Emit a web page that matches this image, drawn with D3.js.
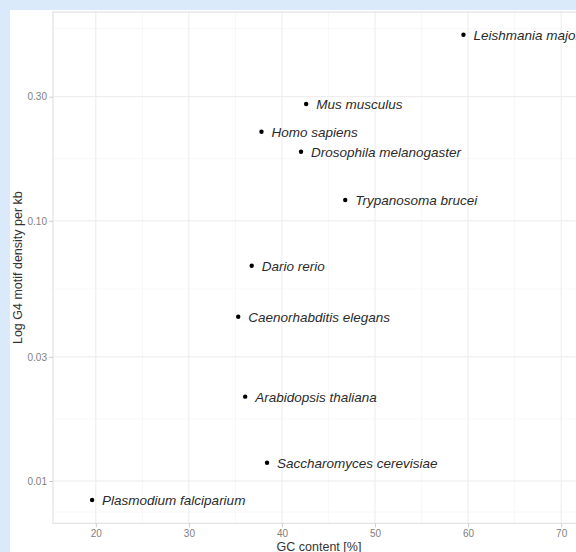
<!DOCTYPE html>
<html><head><meta charset="utf-8">
<script src="https://cdn.jsdelivr.net/npm/d3@7"></script>
<style>html,body{margin:0;padding:0;background:#dbeafb;overflow:hidden}svg{display:block}</style>
</head><body>
<svg id="c" width="576" height="552"></svg>
<script>
const species = ["Leishmania major","Mus musculus","Homo sapiens","Drosophila melanogaster","Trypanosoma brucei","Dario rerio","Caenorhabditis elegans","Arabidopsis thaliana","Saccharomyces cerevisiae","Plasmodium falciparium"];
const gcContent = [59.5, 42.6, 37.8, 42.05, 46.8, 36.75, 35.3, 36.05, 38.4, 19.6];
const g4Density = [0.519, 0.281, 0.220, 0.1844, 0.1203, 0.0672, 0.0428, 0.0211, 0.01176, 0.00845];
const xTicks = [20, 30, 40, 50, 60, 70];
const xMinor = [15, 25, 35, 45, 55, 65, 75];
const yTicks = [0.01, 0.03, 0.10, 0.30];
const yTickLabels = ["0.01", "0.03", "0.10", "0.30"];

const svg = d3.select("#c");
svg.append("rect").attr("x",10).attr("y",10).attr("width",600).attr("height",600).attr("fill","#ffffff");

const L = 53, R = 585, T = 12, B = 523.3;
const x = d3.scaleLinear().domain([15.4, 72.56]).range([L, R]);
const y = d3.scaleLog().domain([0.006879, 0.6347]).range([B, T]);

// minor y breaks: midpoints in log space between major breaks
const yAll = [0.01/Math.sqrt(3), ...yTicks, 1.0];
const yMinor = [];
for (let i = 0; i < yAll.length-1; i++) yMinor.push(Math.sqrt(yAll[i]*yAll[i+1]));

const g = svg.append("g");
g.selectAll(".xmin").data(xMinor.filter(v=>x(v)>L && x(v)<R)).enter().append("line")
  .attr("x1",d=>x(d)).attr("x2",d=>x(d)).attr("y1",T).attr("y2",B)
  .attr("stroke","#f3f3f3").attr("stroke-width",0.6);
g.selectAll(".ymin").data(yMinor.filter(v=>y(v)>T && y(v)<B)).enter().append("line")
  .attr("y1",d=>y(d)).attr("y2",d=>y(d)).attr("x1",L).attr("x2",R)
  .attr("stroke","#f3f3f3").attr("stroke-width",0.6);
g.selectAll(".xmaj").data(xTicks).enter().append("line")
  .attr("x1",d=>x(d)).attr("x2",d=>x(d)).attr("y1",T).attr("y2",B)
  .attr("stroke","#ebebeb").attr("stroke-width",1);
g.selectAll(".ymaj").data(yTicks).enter().append("line")
  .attr("y1",d=>y(d)).attr("y2",d=>y(d)).attr("x1",L).attr("x2",R)
  .attr("stroke","#ebebeb").attr("stroke-width",1);

// panel border
g.append("rect").attr("x",L).attr("y",T).attr("width",R-L).attr("height",B-T)
  .attr("fill","none").attr("stroke","#dcdcdc").attr("stroke-width",1);

// axes
const xAxis = d3.axisBottom(x).tickValues(xTicks).tickSize(4).tickPadding(3).tickFormat(d3.format("d"));
const gx = svg.append("g").attr("transform",`translate(0,${B})`).call(xAxis);
const yAxis = d3.axisLeft(y).tickValues(yTicks).tickSize(4).tickPadding(2).tickFormat((d,i)=>yTickLabels[i]);
const gy = svg.append("g").attr("transform",`translate(${L},0)`).call(yAxis);
[gx, gy].forEach(a => {
  a.select(".domain").remove();
  a.selectAll(".tick line").attr("stroke","#cfcfcf");
  a.selectAll(".tick text").attr("fill","#808080").style("font-family","'Liberation Sans', Arial, sans-serif").style("font-size","10px");
});

// points
const data = species.map((s,i)=>({name:s, gc:gcContent[i], d:g4Density[i]}));
svg.selectAll(".pt").data(data).enter().append("circle")
  .attr("cx",d=>x(d.gc)).attr("cy",d=>y(d.d)).attr("r",2.2).attr("fill","#000");
svg.selectAll(".lbl").data(data).enter().append("text")
  .attr("x",d=>x(d.gc)+10).attr("y",d=>y(d.d)).attr("dy","0.36em")
  .attr("fill","#2b2b2b").style("font-style","italic")
  .style("font-family","'Liberation Sans', Arial, sans-serif").style("font-size","13.5px")
  .text(d=>d.name);

// titles
svg.append("text").attr("x",(L+R)/2).attr("y",551).attr("text-anchor","middle")
  .attr("fill","#333").style("font-family","'Liberation Sans', Arial, sans-serif").style("font-size","12.5px")
  .text("GC content [%]");
svg.append("text").attr("transform",`translate(22,${(T+B)/2}) rotate(-90)`).attr("text-anchor","middle")
  .attr("fill","#333").style("font-family","'Liberation Sans', Arial, sans-serif").style("font-size","12.5px")
  .text("Log G4 motif density per kb");
</script>
</body></html>
